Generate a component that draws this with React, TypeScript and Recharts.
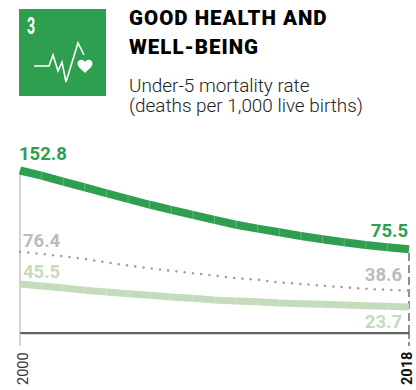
import { LineChart, Line, XAxis, YAxis, ReferenceLine } from "recharts";

const years = [2000, 2001, 2002, 2003, 2004, 2005, 2006, 2007, 2008, 2009, 2010, 2011, 2012, 2013, 2014, 2015, 2016, 2017, 2018];
const low = [152.8, 147.9, 142.3, 137, 131.4, 126, 120.6, 115.7, 111, 106.3, 101.8, 98.1, 94.7, 91.2, 88.1, 85.3, 82.7, 80.6, 78.7];
const world = [76.4, 74.3, 72.1, 69.6, 66.3, 63.5, 60.9, 58.5, 56.2, 54.1, 51.5, 50.1, 47.5, 46.1, 44.5, 43, 41.6, 40.6, 39.8];
const high = [46.1, 44.2, 42.3, 40.2, 38.6, 37, 35.4, 33.9, 32.6, 31, 30.1, 29.4, 28.2, 27.6, 27, 26.3, 25.7, 25.1, 24.4];
const lowLabels = ["152.8", "75.5"];
const worldLabels = ["76.4", "38.6"];
const highLabels = ["45.5", "23.7"];
const xTicks = [2000, 2018];

const data = years.map((year, i) => ({ year, low: low[i], world: world[i], high: high[i] }));

const GREEN = "#2e9e4f";
const GREY = "#b9bbbd";
const PALE = "#c4dbbd";
const FONT = "Roboto, sans-serif";

// white hairline between the yearly segments of the thick lines
const Separator = (props: any) => {
  const { cx, cy, index, halfHeight } = props;
  if (index === 0 || index === years.length - 1) return <g key={index} />;
  return (
    <line key={index} x1={cx} x2={cx} y1={cy - halfHeight} y2={cy + halfHeight} stroke="#fff" strokeOpacity={0.25} strokeWidth={1} />
  );
};

const endLabel = (texts: string[], color: string, first: number[], last: number[]) => (props: any) => {
  const { x, y, index } = props;
  if (index !== 0 && index !== years.length - 1) return <g key={index} />;
  const isFirst = index === 0;
  const off = isFirst ? first : last;
  return (
    <text
      key={index}
      x={x + off[0]}
      y={y + off[1]}
      fill={color}
      fontFamily={FONT}
      fontWeight={700}
      fontSize={18.5}
      textAnchor={isFirst ? "start" : "end"}
    >
      {texts[isFirst ? 0 : 1]}
    </text>
  );
};

const YearTick = (props: any) => {
  const { x, y, payload } = props;
  const isLast = payload.value === 2018;
  return (
    <g>
      <line
        x1={x}
        x2={x}
        y1={y}
        y2={y + 13}
        stroke={isLast ? "#555" : "#bdbdbd"}
        strokeWidth={1.3}
        strokeDasharray={isLast ? "6 3" : undefined}
      />
      <text
        transform={`translate(${x + (isLast ? 3 : 8)},${y + 52}) rotate(-90)`}
        fontFamily={FONT}
        fontSize={14.5}
        fontWeight={isLast ? 700 : 400}
        fill={isLast ? "#111" : "#333"}
      >
        {payload.value}
      </text>
    </g>
  );
};

function Header() {
  return (
    <svg width={416} height={130} style={{ position: "absolute", left: 0, top: 0 }}>
      <rect x={19} y={9} width={87} height={87} fill={GREEN} />
      <text
        transform="translate(27,34) scale(0.62,1)"
        fontFamily={FONT}
        fontWeight={700}
        fontSize={23}
        fill="#fff"
      >
        3
      </text>
      <polyline
        points="34,66 49,66 53,55 58,71 62,62 66,82 78,43 84,55"
        fill="none"
        stroke="#fff"
        strokeWidth={1.6}
      />
      <path d="M85,73 C81,69 77.5,66.5 77.5,63.5 C77.5,59.5 83,58.5 85,62 C87,58.5 92.5,59.5 92.5,63.5 C92.5,66.5 89,69 85,73 Z" fill="#fff" />
      <g fontFamily={FONT} fontWeight={900} fontSize={20.5} letterSpacing={1} fill="#000">
        <text x={129} y={25}>GOOD HEALTH AND</text>
        <text x={129} y={53.5}>WELL-BEING</text>
      </g>
      <g fontFamily={FONT} fontWeight={300} fontSize={18.9} fill="#222">
        <text x={129} y={91.5}>Under-5 mortality rate</text>
        <text x={129} y={112}>(deaths per 1,000 live births)</text>
      </g>
    </svg>
  );
}

export default function App() {
  return (
    <div style={{ position: "absolute", left: 0, top: 0, width: 416, height: 390, background: "#fff" }}>
      <Header />
      <div style={{ position: "absolute", left: 0, top: 0 }}>
        <LineChart width={416} height={390} data={data} margin={{ top: 170.5, right: 7, bottom: 0, left: 20 }}>
          <XAxis
            dataKey="year"
            type="number"
            domain={[2000, 2018]}
            ticks={xTicks}
            interval={0}
            axisLine={{ stroke: "#333", strokeWidth: 1.3 }}
            tickLine={false}
            tickSize={0}
            tickMargin={0}
            tick={<YearTick />}
            height={57}
          />
          <YAxis hide domain={[0, 152.8]} />
          <ReferenceLine y={-1} ifOverflow="visible" stroke="#c4c4c4" strokeWidth={1} />
          <ReferenceLine segment={[{ x: 2000, y: 0 }, { x: 2000, y: 152.8 }]} stroke="#bdbdbd" strokeWidth={1.3} />
          <ReferenceLine segment={[{ x: 2018, y: 0 }, { x: 2018, y: 78 }]} stroke="#555" strokeWidth={1.3} strokeDasharray="8 4" />
          <Line
            dataKey="world"
            stroke="#9fa1a4"
            strokeWidth={2.6}
            strokeLinecap="round"
            strokeDasharray="0 8.3"
            dot={false}
            isAnimationActive={false}
            label={endLabel(worldLabels, GREY, [3, -5], [-7, -10])}
          />
          <Line
            dataKey="high"
            stroke={PALE}
            strokeWidth={7}
            dot={(p: any) => <Separator {...p} halfHeight={3.5} />}
            isAnimationActive={false}
            label={endLabel(highLabels, PALE, [3, -6], [-7, 21])}
          />
          <Line
            dataKey="low"
            stroke={GREEN}
            strokeWidth={8}
            dot={(p: any) => <Separator {...p} halfHeight={4} />}
            isAnimationActive={false}
            label={endLabel(lowLabels, GREEN, [-1, -11], [-1, -12])}
          />
        </LineChart>
      </div>
    </div>
  );
}
